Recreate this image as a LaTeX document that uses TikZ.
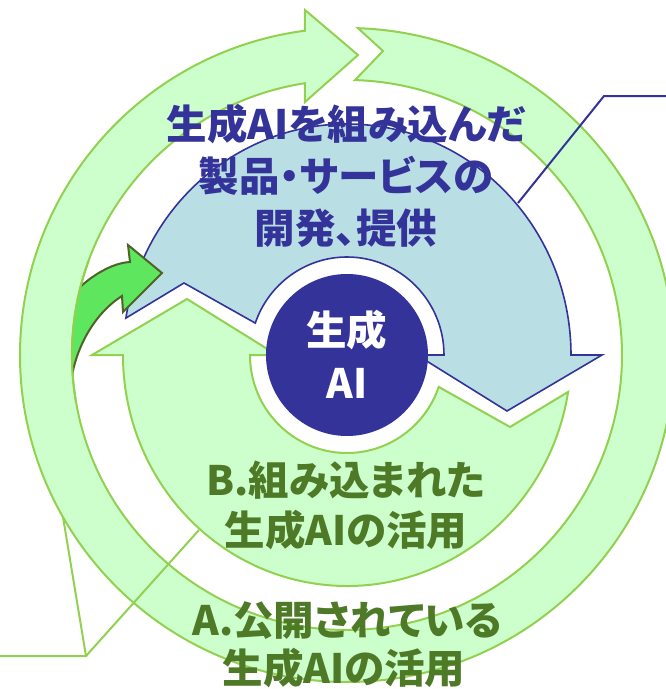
\documentclass[tikz,border=0pt]{standalone}
\usepackage{fontspec}
\newfontfamily\jp{Noto Sans CJK JP}[RawFeature=+palt]
\definecolor{ringfill}{HTML}{CCFFCC}
\definecolor{ringline}{HTML}{92D050}
\definecolor{navy}{HTML}{333399}
\definecolor{aqua}{HTML}{B9DEE3}
\definecolor{arrowfill}{HTML}{5EE65E}
\definecolor{arrowline}{HTML}{4F6228}
\definecolor{olivetext}{HTML}{4E7A27}
\begin{document}
\begin{tikzpicture}[x=1pt,y=1pt,
  greenband/.style={fill=ringfill,draw=ringline,line width=2pt,line join=miter},
  blueband/.style={fill=aqua,draw=navy,line width=1.6pt,line join=miter},
  smallarrow/.style={fill=arrowfill,draw=arrowline,line width=2pt,line join=miter},
  navyleader/.style={draw=navy,line width=2pt},
  greenleader/.style={draw=ringline,line width=2pt},
  bluetext/.style={text=navy,inner sep=0pt,font=\jp\bfseries\fontsize{40.5}{48}\selectfont},
  greentext/.style={text=olivetext,inner sep=0pt,font=\jp\bfseries\fontsize{40.5}{48}\selectfont},
  whitetext/.style={text=white,inner sep=0pt,font=\jp\bfseries\fontsize{40.5}{48}\selectfont}]
\useasboundingbox (-347,-334) rectangle (319,355);
\clip (-347,-334) rectangle (319,355);
% outer ring A
\draw[greenband] (88.07:327) arc[start angle=88.07, end angle=-262.6, radius=327]
  -- (-42,345) -- (11,300) -- (-42,253) -- (-42,271.8)
  arc[start angle=-261.22, end angle=88.33, radius=275] -- (36,304) -- cycle;
% inner arrow B
\draw[greenband] (-9.2:224 and 231) arc[start angle=-9.2, end angle=-180, x radius=224, y radius=231]
  -- (-255,0) -- (-160,56) -- (-70,0) -- (-97,0)
  arc[start angle=180, end angle=341, x radius=97, y radius=98] -- (163,-72) -- cycle;
% blue arrow C
\draw[blueband] (170.8:224 and 231) arc[start angle=170.8, end angle=0, x radius=224, y radius=231]
  -- (255,0) -- (160,-56) -- (70,0) -- (97,0)
  arc[start angle=0, end angle=161, x radius=97, y radius=98] -- (-163,72) -- cycle;
% small curved arrow, emerging from the inner edge of ring A
\begin{scope}
  \clip (0,0) circle[radius=275];
  \draw[smallarrow] (-282,50) .. controls (-270,70) and (-240,92) .. (-217,93)
    -- (-219,110) -- (-185,82) -- (-224,43) -- (-225,59)
    .. controls (-255,40) and (-276,0) .. (-277,-40) -- cycle;
\end{scope}
\draw[draw=ringline,line width=2pt] (160:275) arc[start angle=160, end angle=190, radius=275];
% centre circle
\node[circle,fill=navy,minimum size=162pt,inner sep=0pt] (core) at (0,0) {};
\node[whitetext] (core1) at (0,25) {生成};
\node[whitetext] (core2) at (0,-28) {AI};
% leader lines
\coordinate (rt) at (319,259);
\coordinate (rk) at (257,259);
\coordinate (rc) at (171,152);
\draw[navyleader] (rt) -- (rk) -- (rc);
\coordinate (lt) at (-347,-301);
\coordinate (lk) at (-261,-301);
\coordinate (la) at (-284,-162);
\coordinate (lb) at (-148,-175);
\draw[greenleader] (lt) -- (lk) -- (la);
\draw[greenleader] (lk) -- (lb);
% texts
\node[bluetext] (c1) at (-1,231) {生成AIを組み込んだ};
\node[bluetext] (c2) at (-1,179) {製品・サービスの};
\node[bluetext] (c3) at (-1,127) {開発、提供};
\node[greentext] (b1) at (-1,-125) {B.組み込まれた};
\node[greentext] (b2) at (-1,-175) {生成AIの活用};
\node[greentext] (a1) at (0,-266) {A.公開されている};
\node[greentext] (a2) at (-3,-313) {生成AIの活用};
\end{tikzpicture}
\end{document}
